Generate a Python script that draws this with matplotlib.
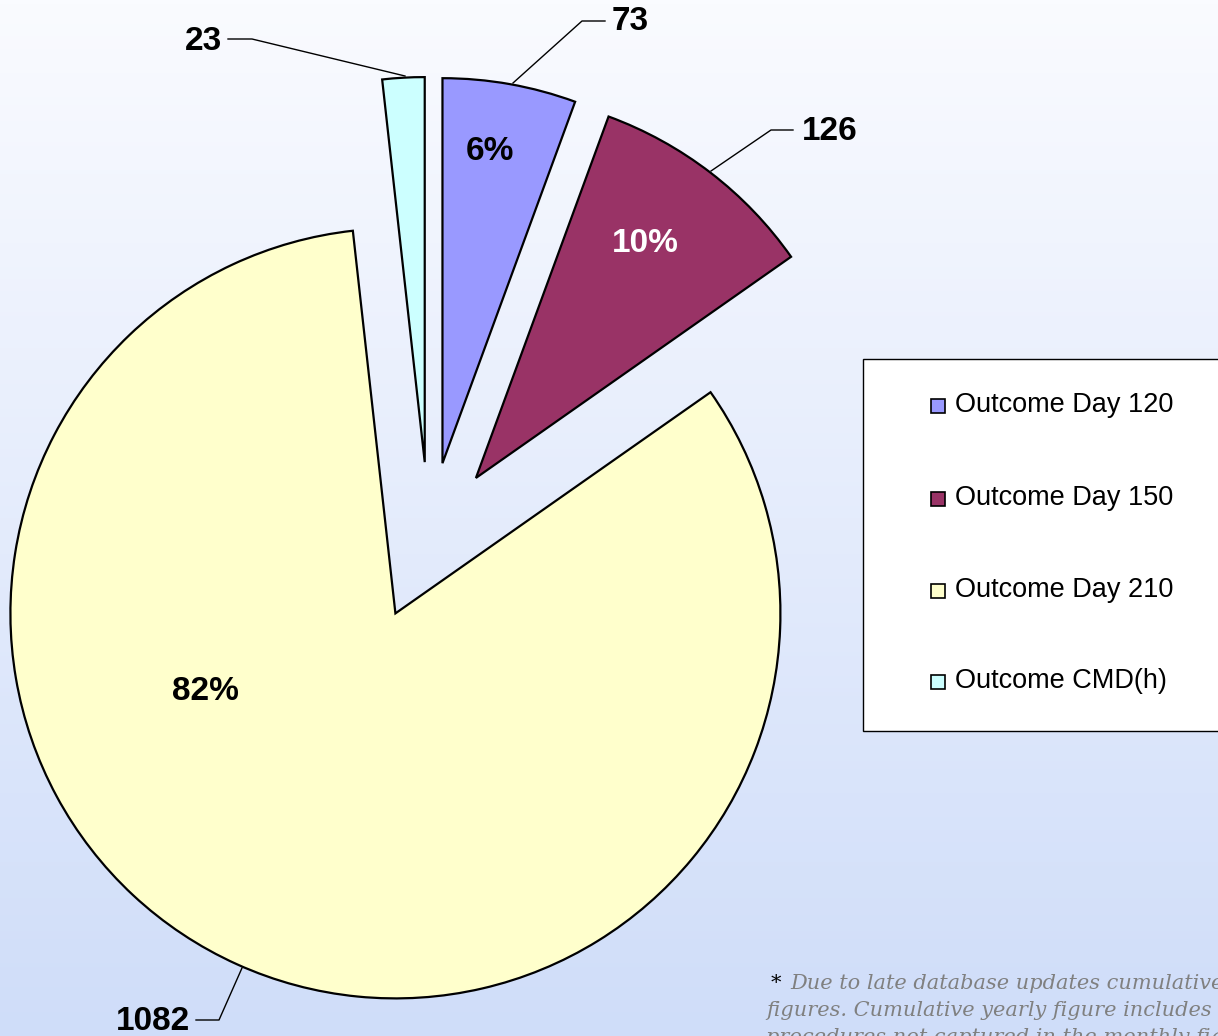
import numpy as np
import matplotlib
matplotlib.use("Agg")
import matplotlib.pyplot as plt
from matplotlib.patches import Rectangle
from matplotlib.lines import Line2D

# ---- data ----
categories = ["Outcome Day 120", "Outcome Day 150", "Outcome Day 210", "Outcome CMD(h)"]
values = [73, 126, 1082, 23]
pct_labels = ["6%", "10%", "82%", ""]
colors = ["#9999FF", "#993366", "#FFFFCC", "#CCFFFF"]
pct_colors = ["black", "white", "black", "black"]

W, H = 1218, 1036
DPI = 100
fig = plt.figure(figsize=(W / DPI, H / DPI), dpi=DPI)

# background gradient
bg = fig.add_axes([0, 0, 1, 1], zorder=0)
grad = np.linspace(0, 1, 256).reshape(-1, 1)
top = np.array([0xFA, 0xFB, 0xFF]) / 255
bot = np.array([0xCF, 0xDD, 0xF9]) / 255
img = top[None, None, :] * (1 - grad[:, :, None]) + bot[None, None, :] * grad[:, :, None]
bg.imshow(img, aspect="auto", extent=[0, 1, 0, 1])
bg.axis("off")

# main axes: pixel mapping with pie center and radius
CX, CY, R = 429.0, 539.0, 385.0
ax = fig.add_axes([0, 0, 1, 1], zorder=1)
ax.patch.set_alpha(0)


def px(x, y):
    return ((x - CX) / R, (CY - y) / R)


wedges, _ = ax.pie(values, colors=colors, startangle=90, counterclock=False,
                   explode=[0.2, 0.2, 0.212, 0.2], radius=1.0, center=(0, 0),
                   wedgeprops=dict(edgecolor="black", linewidth=1.6),
                   frame=True)
ax.set_xlim((0 - CX) / R, (W - CX) / R)
ax.set_ylim((CY - H) / R, (CY - 0) / R)
ax.set_aspect("auto")
ax.axis("off")

font = "Liberation Sans"

# percentage labels
pct_pos = [(490, 151), (645, 244), (205, 691), (0, 0)]
for lab, (x, y), c in zip(pct_labels, pct_pos, pct_colors):
    if lab:
        ax.text(*px(x, y), lab, ha="center", va="center", fontsize=24,
                fontweight="bold", color=c, family=font)

# value labels with leader lines
val_text_pos = [(612, 22, "left"), (802, 132, "left"), (190, 1022, "right"), (222, 41, "right")]
leaders = [
    [(513, 83), (582, 21), (605, 21)],
    [(711, 171), (771, 130), (793, 130)],
    [(242, 968), (219, 1020), (196, 1020)],
    [(405, 76), (252, 39), (228, 39)],
]
for v, (x, y, ha), pts in zip(values, val_text_pos, leaders):
    ax.text(*px(x, y), str(v), ha=ha, va="center", fontsize=24,
            fontweight="bold", color="black", family=font)
    xs, ys = zip(*[px(a, b) for a, b in pts])
    ax.add_line(Line2D(xs, ys, color="black", lw=1.0))

# legend (manual)
lx0, ly0, lx1, ly1 = 863, 359, 1240, 731
x0, y0 = px(lx0, ly1)
x1, y1 = px(lx1, ly0)
ax.add_patch(Rectangle((x0, y0), x1 - x0, y1 - y0, facecolor="white",
                       edgecolor="black", lw=1.0, zorder=3))
leg_y = [405, 498, 590, 681]
sq = 14
for name, c, y in zip(categories, colors, leg_y):
    sx, sy = px(931, y + sq / 2 + 1)
    ax.add_patch(Rectangle((sx, sy), sq / R, sq / R, facecolor=c,
                           edgecolor="black", lw=1.2, zorder=4))
    ax.text(*px(955, y), name, ha="left", va="center", fontsize=19.5,
            color="black", family=font, zorder=5)

# footnote
ax.text(*px(771, 989), "*", ha="left", va="baseline", fontsize=15,
        color="black", family="DejaVu Serif", zorder=5)
foot_lines = [
    (790, 989, "Due to late database updates cumulative figures may differ"),
    (766, 1016, "figures. Cumulative yearly figure includes the"),
    (766, 1043, "procedures not captured in the monthly figures."),
]
for x, y, t in foot_lines:
    ax.text(*px(x, y), t, ha="left", va="baseline", fontsize=15,
            style="italic", color="#808080", family="DejaVu Serif",
            zorder=5, clip_on=False)

fig.savefig("out.png", dpi=DPI)
